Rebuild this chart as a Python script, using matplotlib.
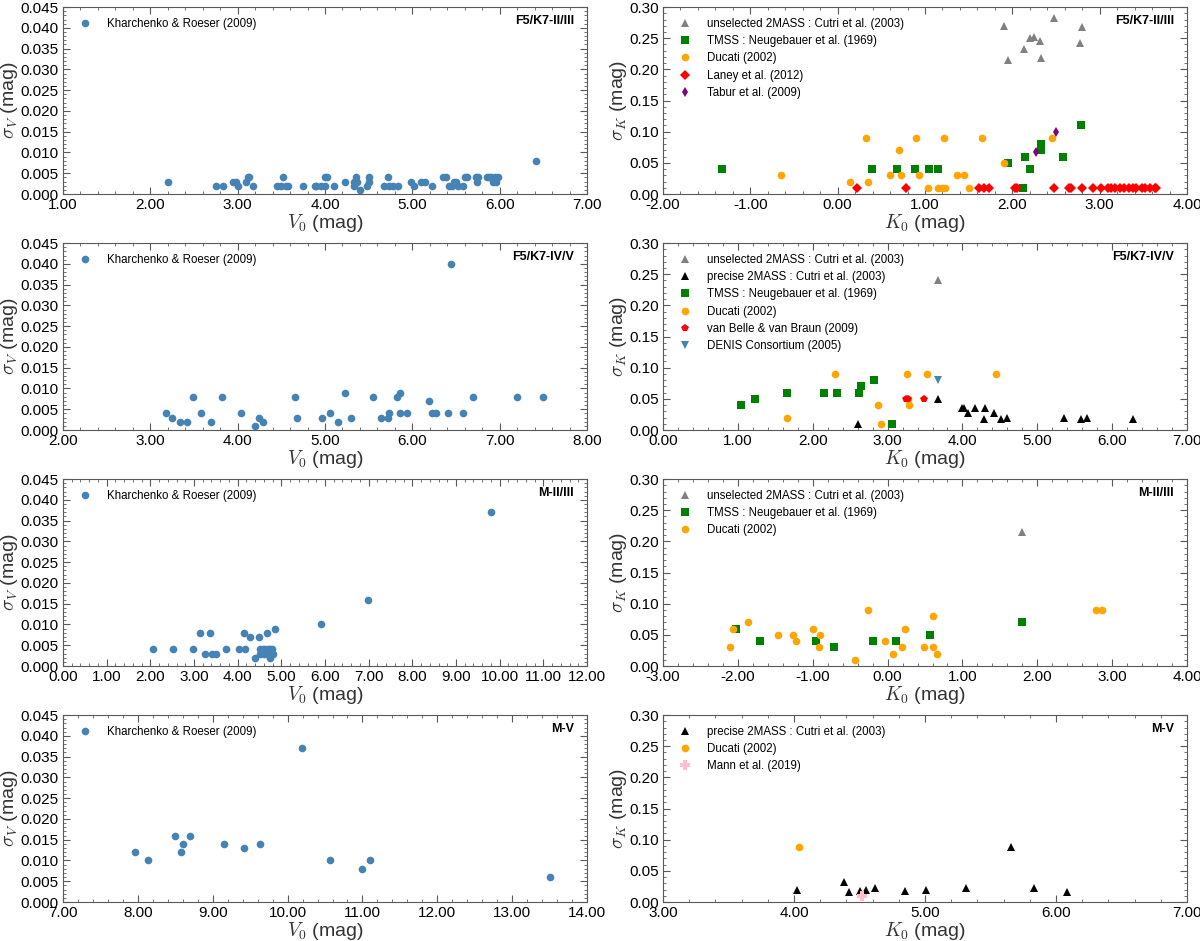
import matplotlib
matplotlib.use('Agg')
import matplotlib.pyplot as plt
from matplotlib.ticker import AutoMinorLocator, FormatStrFormatter, MultipleLocator

plt.rcParams['font.family'] = ['Liberation Sans', 'DejaVu Sans']
plt.rcParams['mathtext.fontset'] = 'cm'

# ---- data ------------------------------------------------------------------

# F5/K7-II/III : V band
v1_x = [2.2, 2.75, 2.83, 2.95, 2.98, 3.0, 3.1, 3.12, 3.13, 3.18, 3.45, 3.5, 3.52, 3.55, 3.58,
        3.75, 3.88, 3.9, 3.95, 4.0, 4.02, 4.0, 4.1, 4.23, 4.33, 4.33, 4.35, 4.37, 4.4, 4.48,
        4.5, 4.5, 4.67, 4.72, 4.73, 4.78, 4.83, 4.98, 5.02, 5.1, 5.15, 5.23, 5.35, 5.38, 5.42,
        5.45, 5.48, 5.5, 5.52, 5.58, 5.6, 5.62, 5.73, 5.74, 5.75, 5.85, 5.88, 5.9, 5.92, 5.95,
        5.96, 5.98, 6.42]
v1_y = [0.003, 0.002, 0.002, 0.003, 0.003, 0.002, 0.003, 0.004, 0.004, 0.002, 0.002, 0.002,
        0.004, 0.002, 0.002, 0.002, 0.002, 0.002, 0.002, 0.004, 0.004, 0.002, 0.002, 0.003,
        0.002, 0.003, 0.004, 0.003, 0.001, 0.002, 0.003, 0.004, 0.002, 0.004, 0.002, 0.002,
        0.002, 0.003, 0.002, 0.003, 0.003, 0.002, 0.004, 0.004, 0.002, 0.002, 0.003, 0.003,
        0.002, 0.002, 0.004, 0.004, 0.004, 0.003, 0.004, 0.004, 0.004, 0.004, 0.003, 0.004,
        0.003, 0.004, 0.008]

# F5/K7-II/III : K band
k1_unsel_x = [1.9, 1.95, 2.13, 2.2, 2.25, 2.32, 2.33, 2.48, 2.78, 2.8]
k1_unsel_y = [0.27, 0.215, 0.232, 0.25, 0.252, 0.245, 0.218, 0.282, 0.242, 0.268]
k1_tmss_x = [-1.32, 0.39, 0.68, 0.88, 1.05, 1.15, 1.95, 2.12, 2.14, 2.2, 2.33, 2.33, 2.58, 2.79]
k1_tmss_y = [0.04, 0.04, 0.04, 0.04, 0.04, 0.04, 0.05, 0.01, 0.06, 0.04, 0.07, 0.08, 0.06, 0.11]
k1_duc_x = [-0.65, 0.14, 0.32, 0.35, 0.6, 0.7, 0.73, 0.9, 0.93, 1.03, 1.15, 1.2, 1.22, 1.23,
            1.37, 1.45, 1.5, 1.65, 1.9, 2.45]
k1_duc_y = [0.03, 0.02, 0.09, 0.02, 0.03, 0.07, 0.03, 0.09, 0.03, 0.01, 0.01, 0.01, 0.09, 0.01,
            0.03, 0.03, 0.01, 0.09, 0.05, 0.09]
k1_laney_x = [0.22, 0.78, 1.62, 1.68, 1.73, 2.03, 2.05, 2.48, 2.65, 2.67, 2.8, 2.92, 3.02,
              3.1, 3.13, 3.18, 3.23, 3.28, 3.33, 3.38, 3.42, 3.48, 3.52, 3.58, 3.63, 3.65]
k1_laney_y = [0.01] * len(k1_laney_x)
k1_tabur_x = [2.27, 2.5]
k1_tabur_y = [0.067, 0.1]

# F5/K7-IV/V : V band
v2_x = [3.18, 3.25, 3.34, 3.42, 3.49, 3.58, 3.7, 3.82, 4.04, 4.2, 4.24, 4.29, 4.66, 4.68,
        4.97, 5.06, 5.15, 5.23, 5.3, 5.55, 5.64, 5.72, 5.73, 5.82, 5.86, 5.86, 5.94, 6.19,
        6.22, 6.27, 6.41, 6.44, 6.58, 6.7, 7.2, 7.5]
v2_y = [0.004, 0.003, 0.002, 0.002, 0.008, 0.004, 0.002, 0.008, 0.004, 0.001, 0.003, 0.002,
        0.008, 0.003, 0.003, 0.004, 0.002, 0.009, 0.003, 0.008, 0.003, 0.003, 0.004, 0.008,
        0.009, 0.004, 0.004, 0.007, 0.004, 0.004, 0.004, 0.040, 0.004, 0.008, 0.008, 0.008]

# F5/K7-IV/V : K band
k2_unsel_x = [3.67]
k2_unsel_y = [0.24]
k2_prec_x = [2.61, 3.68, 4.0, 4.02, 4.08, 4.17, 4.29, 4.3, 4.42, 4.51, 4.59, 5.35, 5.58, 5.66, 6.28]
k2_prec_y = [0.01, 0.05, 0.035, 0.036, 0.027, 0.036, 0.017, 0.035, 0.027, 0.017, 0.02, 0.019,
             0.017, 0.02, 0.017]
k2_tmss_x = [1.04, 1.23, 1.65, 2.15, 2.33, 2.62, 2.64, 2.82, 3.06]
k2_tmss_y = [0.04, 0.05, 0.06, 0.06, 0.06, 0.06, 0.07, 0.08, 0.01]
k2_duc_x = [1.66, 2.3, 2.87, 2.91, 3.26, 3.27, 3.29, 3.53, 4.45]
k2_duc_y = [0.02, 0.09, 0.04, 0.01, 0.09, 0.05, 0.04, 0.09, 0.09]
k2_vb_x = [3.24, 3.27, 3.48]
k2_vb_y = [0.05, 0.05, 0.05]
k2_denis_x = [3.67]
k2_denis_y = [0.08]

# M-II/III : V band
v3_x = [2.07, 2.53, 2.97, 3.13, 3.25, 3.37, 3.42, 3.5, 3.73, 4.02, 4.15, 4.16, 4.28, 4.4,
        4.48, 4.5, 4.52, 4.57, 4.6, 4.63, 4.66, 4.68, 4.7, 4.72, 4.74, 4.75, 4.77, 4.78, 4.8,
        4.86, 5.9, 6.98, 9.8]
v3_y = [0.004, 0.004, 0.004, 0.008, 0.003, 0.008, 0.003, 0.003, 0.004, 0.004, 0.008, 0.004,
        0.007, 0.002, 0.007, 0.003, 0.004, 0.004, 0.003, 0.004, 0.008, 0.003, 0.004, 0.003,
        0.004, 0.002, 0.003, 0.004, 0.003, 0.009, 0.010, 0.016, 0.037]

# M-II/III : K band
k3_unsel_x = [1.8]
k3_unsel_y = [0.215]
k3_tmss_x = [-2.03, -1.71, -0.96, -0.72, -0.19, 0.11, 0.57, 1.8]
k3_tmss_y = [0.06, 0.04, 0.04, 0.03, 0.04, 0.04, 0.05, 0.07]
k3_duc_x = [-2.1, -2.06, -1.87, -1.46, -1.26, -1.23, -1.0, -0.9, -0.92, -0.44, -0.26, -0.04,
            0.07, 0.19, 0.23, 0.48, 0.6, 0.61, 0.66, 2.78, 2.86]
k3_duc_y = [0.03, 0.06, 0.07, 0.05, 0.05, 0.04, 0.06, 0.05, 0.03, 0.01, 0.09, 0.04, 0.02,
            0.03, 0.06, 0.03, 0.08, 0.03, 0.02, 0.09, 0.09]

# M-V : V band
v4_x = [7.96, 8.13, 8.49, 8.57, 8.6, 8.69, 9.15, 9.42, 9.63, 10.19, 10.56, 11.0, 11.1, 13.5]
v4_y = [0.012, 0.010, 0.016, 0.012, 0.014, 0.016, 0.014, 0.013, 0.014, 0.037, 0.010, 0.008,
        0.010, 0.006]

# M-V : K band
k4_prec_x = [4.02, 4.38, 4.42, 4.5, 4.55, 4.62, 4.85, 5.01, 5.31, 5.66, 5.83, 6.08]
k4_prec_y = [0.019, 0.032, 0.016, 0.017, 0.02, 0.023, 0.017, 0.02, 0.022, 0.089, 0.022, 0.016]
k4_duc_x = [4.04]
k4_duc_y = [0.089]
k4_mann_x = [4.52]
k4_mann_y = [0.01]

# ---- style per source ------------------------------------------------------
SRC = {
    'khar':  dict(marker='o', color='steelblue', ms=5.5, label='Kharchenko & Roeser (2009)'),
    'unsel': dict(marker='^', color='gray', ms=5.5, label='unselected 2MASS : Cutri et al. (2003)'),
    'prec':  dict(marker='^', color='black', ms=5.5, label='precise 2MASS : Cutri et al. (2003)'),
    'tmss':  dict(marker='s', color='green', ms=5.3, label='TMSS : Neugebauer et al. (1969)'),
    'duc':   dict(marker='o', color='orange', ms=5.5, label='Ducati (2002)'),
    'laney': dict(marker='D', color='red', ms=5, label='Laney et al. (2012)'),
    'tabur': dict(marker='d', color='purple', ms=5.5, label='Tabur et al. (2009)'),
    'vb':    dict(marker='p', color='red', ms=6, label='van Belle & van Braun (2009)'),
    'denis': dict(marker='v', color='steelblue', ms=5.5, label='DENIS Consortium (2005)'),
    'mann':  dict(marker='P', color='pink', ms=6.5, label='Mann et al. (2019)'),
}


def draw(ax, key, x, y):
    s = SRC[key]
    ax.plot(x, y, linestyle='none', marker=s['marker'], color=s['color'],
            markersize=s['ms'], markeredgewidth=0, label=s['label'])


def style(ax, xlim, ylim, ystep, xlabel, ylabel, yfmt, tag):
    ax.set_xlim(*xlim)
    ax.set_ylim(*ylim)
    ax.xaxis.set_major_locator(MultipleLocator(1.0))
    ax.yaxis.set_major_locator(MultipleLocator(ystep))
    ax.xaxis.set_major_formatter(FormatStrFormatter('%.2f'))
    ax.yaxis.set_major_formatter(FormatStrFormatter(yfmt))
    ax.xaxis.set_minor_locator(AutoMinorLocator(5))
    ax.yaxis.set_minor_locator(AutoMinorLocator(5))
    ax.tick_params(which='both', direction='in', top=True, right=True, labelsize=11,
                   color='0.35', pad=3)
    ax.tick_params(which='major', length=5)
    ax.tick_params(which='minor', length=2.5)
    for sp in ax.spines.values():
        sp.set_color('0.35')
    ax.set_xlabel(xlabel, fontsize=14, labelpad=0, color='0.2')
    ax.set_ylabel(ylabel, fontsize=14, labelpad=0.5, color='0.2')
    ax.text(0.975, 0.925, tag, transform=ax.transAxes, ha='right', va='center',
            fontsize=9, fontweight='bold')
    ax.legend(loc='upper left', frameon=False, fontsize=8.3, handletextpad=0.9,
              borderaxespad=0.55, labelspacing=0.45, numpoints=1)


fig = plt.figure(figsize=(12, 9.41), dpi=100)
lefts = [0.0525, 0.5525]
bottoms = [0.7938, 0.543, 0.2922, 0.0414]
w, h = 0.4367, 0.1987
axes = [[fig.add_axes([l, b, w, h]) for l in lefts] for b in bottoms]

vlab = r'$V_0$ (mag)'
klab = r'$K_0$ (mag)'
svlab = r'$\sigma_V$ (mag)'
sklab = r'$\sigma_K$ (mag)'

# row 1
ax = axes[0][0]
draw(ax, 'khar', v1_x, v1_y)
style(ax, (1, 7), (0, 0.045), 0.005, vlab, svlab, '%.3f', 'F5/K7-II/III')
ax = axes[0][1]
draw(ax, 'unsel', k1_unsel_x, k1_unsel_y)
draw(ax, 'tmss', k1_tmss_x, k1_tmss_y)
draw(ax, 'duc', k1_duc_x, k1_duc_y)
draw(ax, 'laney', k1_laney_x, k1_laney_y)
draw(ax, 'tabur', k1_tabur_x, k1_tabur_y)
style(ax, (-2, 4), (0, 0.30), 0.05, klab, sklab, '%.2f', 'F5/K7-II/III')

# row 2
ax = axes[1][0]
draw(ax, 'khar', v2_x, v2_y)
style(ax, (2, 8), (0, 0.045), 0.005, vlab, svlab, '%.3f', 'F5/K7-IV/V')
ax = axes[1][1]
draw(ax, 'unsel', k2_unsel_x, k2_unsel_y)
draw(ax, 'prec', k2_prec_x, k2_prec_y)
draw(ax, 'tmss', k2_tmss_x, k2_tmss_y)
draw(ax, 'duc', k2_duc_x, k2_duc_y)
draw(ax, 'vb', k2_vb_x, k2_vb_y)
draw(ax, 'denis', k2_denis_x, k2_denis_y)
style(ax, (0, 7), (0, 0.30), 0.05, klab, sklab, '%.2f', 'F5/K7-IV/V')

# row 3
ax = axes[2][0]
draw(ax, 'khar', v3_x, v3_y)
style(ax, (0, 12), (0, 0.045), 0.005, vlab, svlab, '%.3f', 'M-II/III')
ax = axes[2][1]
draw(ax, 'unsel', k3_unsel_x, k3_unsel_y)
draw(ax, 'tmss', k3_tmss_x, k3_tmss_y)
draw(ax, 'duc', k3_duc_x, k3_duc_y)
style(ax, (-3, 4), (0, 0.30), 0.05, klab, sklab, '%.2f', 'M-II/III')

# row 4
ax = axes[3][0]
draw(ax, 'khar', v4_x, v4_y)
style(ax, (7, 14), (0, 0.045), 0.005, vlab, svlab, '%.3f', 'M-V')
ax = axes[3][1]
draw(ax, 'prec', k4_prec_x, k4_prec_y)
draw(ax, 'duc', k4_duc_x, k4_duc_y)
draw(ax, 'mann', k4_mann_x, k4_mann_y)
style(ax, (3, 7), (0, 0.30), 0.05, klab, sklab, '%.2f', 'M-V')

fig.savefig('out.png', dpi=100)
